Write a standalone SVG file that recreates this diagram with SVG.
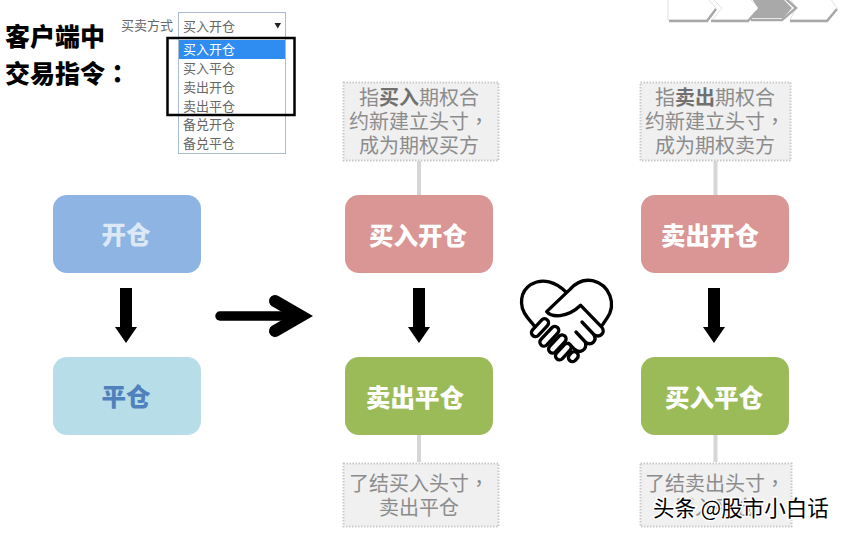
<svg xmlns="http://www.w3.org/2000/svg" width="845" height="535" viewBox="0 0 845 535">
<style>
text{font-family:"Noto Sans CJK SC","Liberation Sans",sans-serif}
.t{font-size:24.500px;font-weight:900;text-anchor:middle;fill:#fff}
.h{font-size:25px;font-weight:900;fill:#000}
.g{font-size:20px;fill:#8c8c8c;text-anchor:middle}
.g tspan.b{font-weight:700;fill:#707070}
.tc{font-family:"Noto Sans CJK TC","Liberation Sans",sans-serif}
.o{font-size:13px;fill:#666}
.note{fill:#f0f0f0;stroke:#c9c9c9;stroke-width:2;stroke-dasharray:1.500 1.500}
.n{stroke:none}
.hs{fill:none;stroke:#000;stroke-width:10;stroke-linecap:round;stroke-linejoin:round}
.fg{fill:#fff;stroke:#000;stroke-width:10}
.ch{fill:#fff;stroke:#e2e2e2;stroke-width:1}
.sh{fill:none;stroke:#a8a8a8;stroke-width:2.500}
</style>
<defs>
<path id="down" d="M-6 0H6V39H11L0 55L-11 39H-6Z" fill="#000"/>
</defs>
<rect width="845" height="535" fill="#fff"/>

<g id="chevrons">
<path class="ch" d="M668-2H707L716 8L707 20H668Z"/>
<path class="ch" d="M712-2H749L759 8L749 20H712L722 8Z"/>
<path d="M752-1H783L792 8L783 18H752L758 8Z" fill="#a9a9a9"/>
<path class="ch" d="M790-2H830L837 8L827 20H790L796 8Z"/>
<path class="sh" d="M669 21H707L716 9M711 21H748L757 11M751 20H782L796 8L786-1M790 21H827L837 9"/>
</g>

<g id="title">
<text class="h" x="5" y="46">客户端中</text>
<text class="h" x="5" y="83">交易指令<tspan class="tc">：</tspan></text>
</g>

<g id="dropdown">
<text class="o" x="121" y="30">买卖方式</text>
<rect x="178.500" y="12.500" width="107" height="141" fill="#fff" stroke="#a9bcd4"/>
<rect x="179" y="40" width="106" height="19" fill="#2f8cf0"/>
<text class="o" x="183" y="31">买入开仓</text>
<path d="M274.500 23H281L277.750 28.500Z" fill="#222"/>
<text class="o" x="183" y="54" style="fill:#fff">买入开仓</text>
<text class="o" x="183" y="73">买入平仓</text>
<text class="o" x="183" y="92">卖出开仓</text>
<text class="o" x="183" y="111">卖出平仓</text>
<text class="o" x="183" y="129">备兑开仓</text>
<text class="o" x="183" y="148">备兑平仓</text>
<rect x="167.500" y="38" width="127" height="77" fill="none" stroke="#000" stroke-width="2.500"/>
</g>

<g id="connectors">
<path d="M419 161V195M419 435V462M715.500 161V195M715.500 435V462" stroke="#d6d6d6" stroke-width="4" fill="none"/>
<use href="#down" transform="translate(126 288)"/>
<use href="#down" transform="translate(419 288)"/>
<use href="#down" transform="translate(714 288)"/>
<path d="M220 316H295" fill="none" stroke="#000" stroke-width="9.500" stroke-linecap="round"/>
<path d="M275 301L301 316L275 331" fill="none" stroke="#000" stroke-width="12" stroke-linecap="round" stroke-linejoin="miter"/>
</g>

<g id="open"><rect class="n" x="53" y="195" width="148" height="78" rx="14" fill="#8db4e2"/><text class="t" x="126" y="244" style="fill:#dce8f5">开仓</text></g>
<g id="close"><rect class="n" x="53" y="357" width="148" height="78" rx="14" fill="#b7dde8"/><text class="t" x="126" y="406" style="fill:#4f81bd">平仓</text></g>
<g id="buy-open"><rect class="n" x="345" y="195" width="148" height="78" rx="14" fill="#d99694"/><text class="t" x="418" y="245">买入开仓</text></g>
<g id="sell-close"><rect class="n" x="345" y="357" width="148" height="78" rx="14" fill="#9bbb59"/><text class="t" x="415" y="407">卖出平仓</text></g>
<g id="sell-open"><rect class="n" x="641" y="195" width="148" height="78" rx="14" fill="#d99694"/><text class="t" x="710" y="245">卖出开仓</text></g>
<g id="buy-close"><rect class="n" x="641" y="357" width="148" height="78" rx="14" fill="#9bbb59"/><text class="t" x="714" y="407">买入平仓</text></g>

<g id="note-buy">
<rect class="note" x="343.500" y="82.500" width="155" height="78"/>
<text class="g" x="419" y="105">指<tspan class="b">买入</tspan>期权合</text>
<text class="g" x="419" y="129">约新建立头寸<tspan class="tc">，</tspan></text>
<text class="g" x="419" y="153">成为期权买方</text>
</g>
<g id="note-sell">
<rect class="note" x="640.500" y="82.500" width="150" height="78"/>
<text class="g" x="715" y="105">指<tspan class="b">卖出</tspan>期权合</text>
<text class="g" x="715" y="129">约新建立头寸<tspan class="tc">，</tspan></text>
<text class="g" x="715" y="153">成为期权卖方</text>
</g>
<g id="note-close-buy">
<rect class="note" x="343.500" y="463.500" width="155" height="63"/>
<text class="g" x="419" y="491">了结买入头寸<tspan class="tc">，</tspan></text>
<text class="g" x="419" y="515">卖出平仓</text>
</g>
<g id="note-close-sell">
<rect class="note" x="640.500" y="463.500" width="151" height="63"/>
<text class="g" x="715" y="491">了结卖出头寸<tspan class="tc">，</tspan></text>
<text class="g" x="715" y="515">买入平仓</text>
</g>

<g id="handshake" transform="translate(510 270) scale(.3333)">
<path class="hs" d="M78 174L52 142C22 104 34 62 62 44C98 22 138 36 168 66"/>
<path d="M180 58L110 125C124 142 170 146 212 106L276 172C288 190 268 206 250 194L258 200C266 218 244 232 228 218C232 240 210 252 194 238L170 215L130 160L112 130Z" fill="#fff"/>
<path class="hs" d="M278 164L290 146C322 102 298 44 248 32C216 26 194 42 180 58L110 125C124 142 170 146 212 106L276 172C288 190 268 206 250 192L216 156M250 192C264 212 244 230 226 216L198 186M226 216C232 240 210 252 194 238L176 220"/>
<rect class="fg" x="-32" y="-12" width="64" height="24" rx="12" transform="translate(90 173) rotate(-47)"/>
<rect class="fg" x="-36" y="-12" width="72" height="24" rx="12" transform="translate(118 199) rotate(-47)"/>
<rect class="fg" x="-33" y="-12" width="66" height="24" rx="12" transform="translate(142 222) rotate(-47)"/>
<rect class="fg" x="-29" y="-12" width="58" height="24" rx="12" transform="translate(160 245) rotate(-47)"/>
<rect class="fg" x="-16" y="-12" width="32" height="24" rx="12" transform="translate(190 260) rotate(-47)"/>
</g>

<g id="watermark">
<text x="653" y="516" font-size="21.500" fill="#000" stroke="#fff" stroke-width="3" paint-order="stroke">头条 @股市小白话</text>
</g>
</svg>
